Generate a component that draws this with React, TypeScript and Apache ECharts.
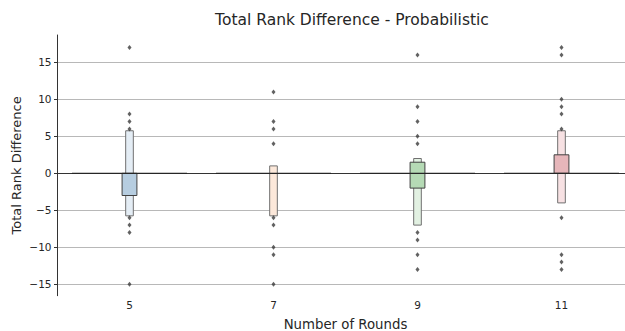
import React, { useEffect, useRef } from 'react';
import * as echarts from 'echarts';

const categories = ['5', '7', '9', '11'];
const yTicks = [-15, -10, -5, 0, 5, 10, 15];
const medians = [0, 0, 0, 0];

// letter-value boxes: [categoryIndex, low, high]
const outerBoxes = [
  [0, -5.75, 5.75],
  [1, -5.75, 1],
  [2, -7, 2],
  [3, -4, 5.75],
];
const innerBoxes = [
  [0, -3, 0],
  [2, -2, 1.5],
  [3, 0, 2.5],
];

const outliers5 = [17, 8, 7, 6, -6, -7, -8, -15];
const outliers7 = [11, 7, 6, 4, -6, -7, -10, -11, -15];
const outliers9 = [16, 9, 7, 5, 4, -8, -9, -11, -13];
const outliers11 = [17, 16, 10, 9, 8, 6, -6, -11, -12, -13];

const outerFill = ['#e4edf5', '#fce8da', '#e2f1e2', '#f7e1e3'];
const innerFill = ['#b6cde0', '#f7cdb0', '#b5dab5', '#e6b6ba'];

const FONT = 'DejaVu Sans, sans-serif';
const TEXT = '#262626';

export default function App() {
  const ref = useRef<HTMLDivElement>(null);
  useEffect(() => {
    const chart = echarts.init(ref.current!, undefined, { renderer: 'svg' });
    const outlierData: number[][] = [];
    [outliers5, outliers7, outliers9, outliers11].forEach((arr, i) =>
      arr.forEach((v) => outlierData.push([i, v]))
    );
    const boxRender = (frac: number, fills: string[], stroke: string) =>
      (params: any, api: any) => {
        const x = api.value(0);
        const lo = api.value(1);
        const hi = api.value(2);
        const pTop = api.coord([x, hi]);
        const pBot = api.coord([x, lo]);
        const band = api.size([1, 0])[0];
        const w = band * frac;
        return {
          type: 'rect',
          shape: { x: pTop[0] - w / 2, y: pTop[1], width: w, height: pBot[1] - pTop[1] },
          style: { fill: fills[x], stroke, lineWidth: 1 },
        };
      };
    chart.setOption({
      animation: false,
      title: {
        text: 'Total Rank Difference - Probabilistic',
        left: 347,
        textAlign: 'center',
        top: 7,
        textStyle: { fontFamily: FONT, fontSize: 15.5, fontWeight: 'normal', color: TEXT },
      },
      grid: { left: 57.5, right: -8.5, top: 35, bottom: 35.3, containLabel: false, outerBoundsMode: 'none' },
      xAxis: {
        type: 'category',
        data: categories,
        boundaryGap: true,
        name: 'Number of Rounds',
        nameLocation: 'middle',
        nameGap: 22,
        nameMoveOverlap: false,
        nameTextStyle: { fontFamily: FONT, fontSize: 13.3, color: TEXT },
        axisLine: { lineStyle: { color: '#333333', width: 1 } },
        axisTick: { show: true, alignWithLabel: true, length: 3.5, lineStyle: { color: '#333333' } },
        axisLabel: { fontFamily: FONT, fontSize: 10.5, color: TEXT, margin: 4 },
        splitLine: { show: false },
      },
      yAxis: {
        type: 'value',
        min: -16.54,
        max: 18.69,
        name: 'Total Rank Difference',
        nameLocation: 'middle',
        nameGap: 35,
        nameMoveOverlap: false,
        nameTextStyle: { fontFamily: FONT, fontSize: 13, color: TEXT },
        axisLine: { show: true, lineStyle: { color: '#333333', width: 1 } },
        axisTick: { show: true, length: 3.5, customValues: yTicks, lineStyle: { color: '#333333' } },
        axisLabel: {
          customValues: yTicks,
          fontFamily: FONT,
          fontSize: 10.5,
          color: TEXT,
          margin: 6,
          formatter: (v: number) => String(v).replace('-', '\u2212'),
        },
        splitLine: { show: false },
      },
      series: [
        {
          type: 'line',
          data: [],
          z: 0,
          silent: true,
          markLine: {
            silent: true,
            z: 0,
            symbol: 'none',
            label: { show: false },
            lineStyle: { color: '#b8b8b8', width: 1, type: 'solid' },
            data: yTicks.map((v) => ({ yAxis: v })),
          },
        },
        {
          type: 'custom',
          z: 2,
          data: outerBoxes,
          renderItem: boxRender(0.053, outerFill, '#707070'),
        },
        {
          type: 'custom',
          z: 3,
          data: innerBoxes,
          renderItem: boxRender(0.103, innerFill, '#404040'),
        },
        {
          type: 'custom',
          z: 4,
          data: medians.map((m, i) => [i, m]),
          renderItem: (params: any, api: any) => {
            const x = api.value(0);
            const p = api.coord([x, api.value(1)]);
            const band = api.size([1, 0])[0];
            const w = band * 0.8;
            return {
              type: 'line',
              shape: { x1: p[0] - w / 2, y1: p[1], x2: p[0] + w / 2, y2: p[1] },
              style: { stroke: '#262626', lineWidth: 1.2 },
            };
          },
        },
        {
          type: 'scatter',
          z: 5,
          symbol: 'diamond',
          symbolSize: [4, 5],
          itemStyle: { color: '#3a3a3a' },
          data: outlierData,
        },
      ],
    });
    return () => chart.dispose();
  }, []);
  return <div ref={ref} style={{ width: 625, height: 331, position: 'absolute', left: 0, top: 0 }} />;
}
